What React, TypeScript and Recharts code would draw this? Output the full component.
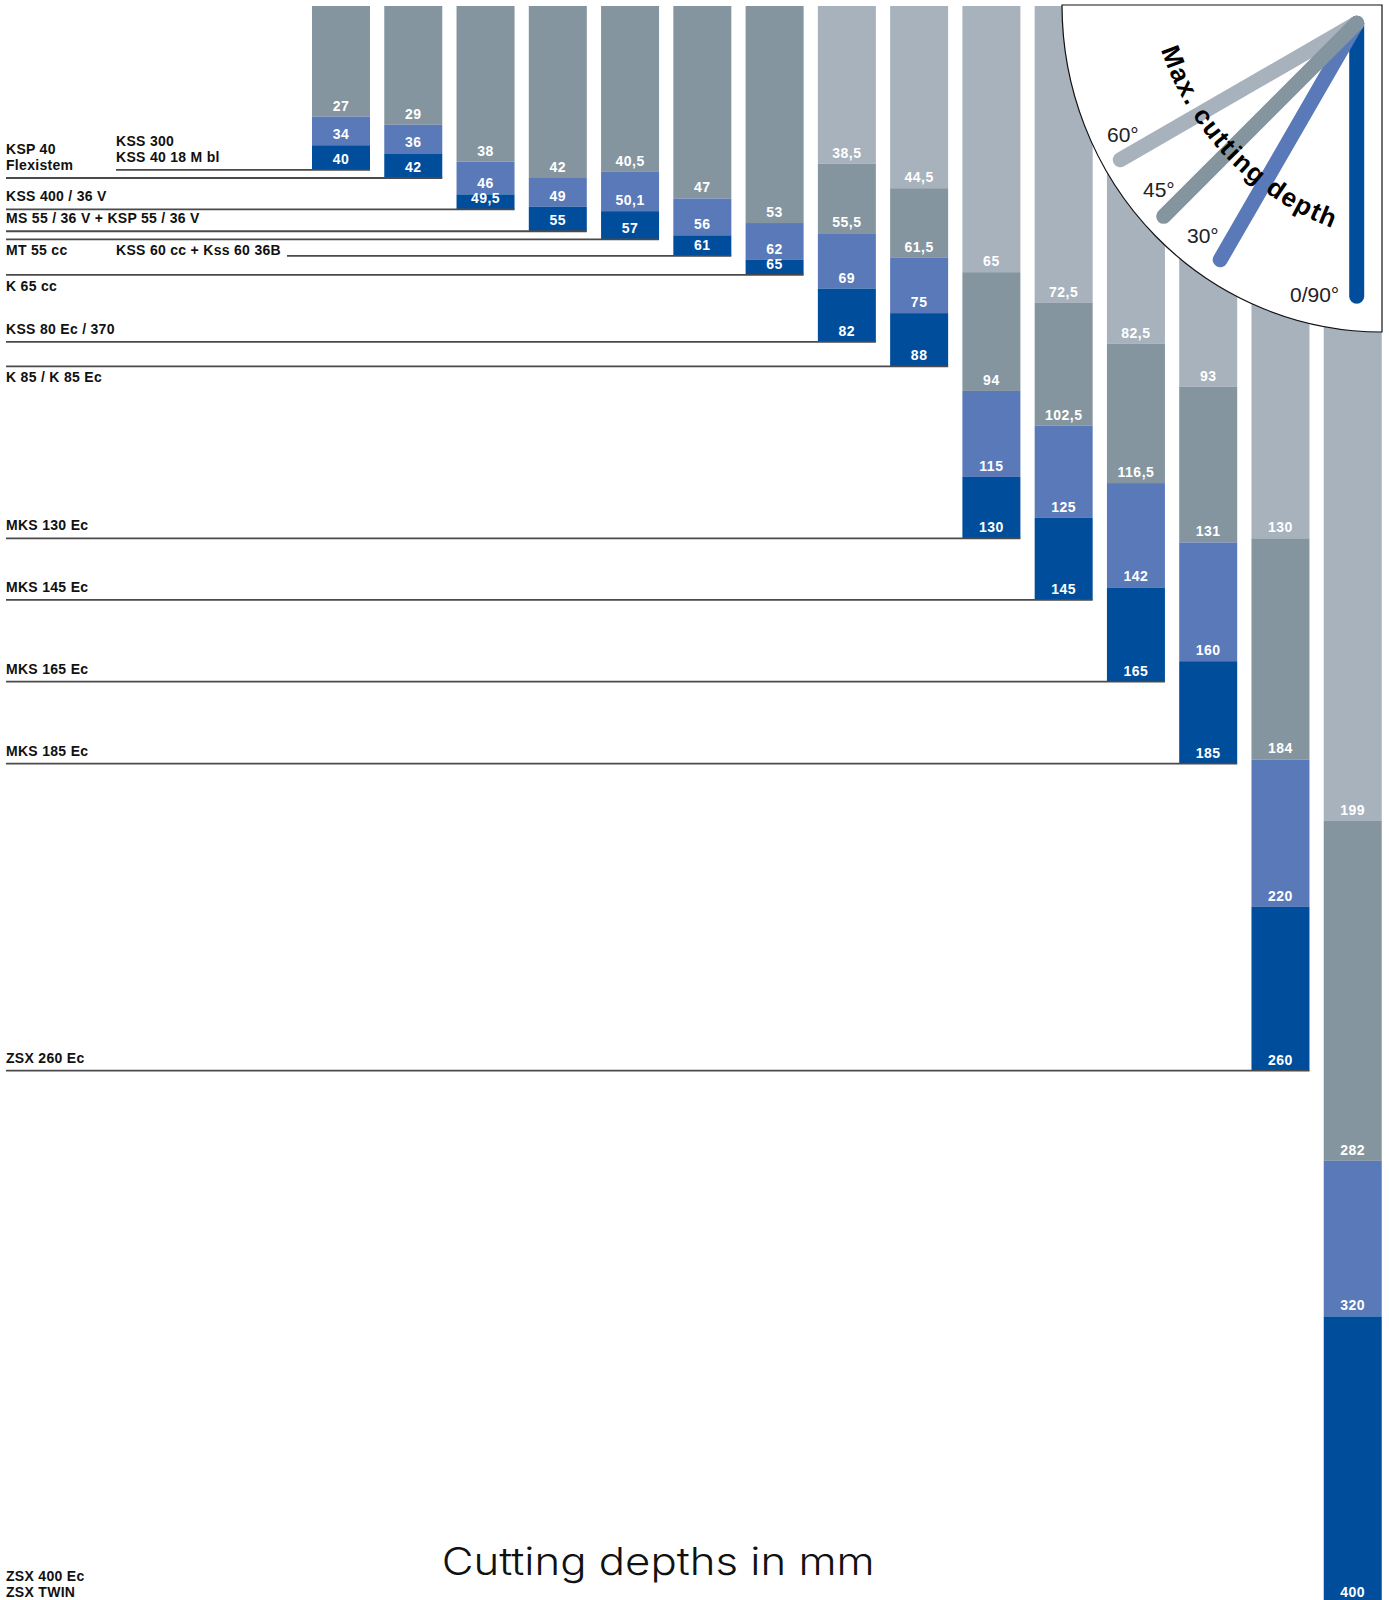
import React from 'react';
import { BarChart, Bar, XAxis, YAxis } from 'recharts';

// ---------- data ----------
const MODELS: string[] = [
  'KSS 300\nKSS 40 18 M bl',
  'KSP 40\nFlexistem',
  'KSS 400 / 36 V',
  'MS 55 / 36 V + KSP 55 / 36 V',
  'MT 55 cc',
  'KSS 60 cc + Kss 60 36B',
  'K 65 cc',
  'KSS 80 Ec / 370',
  'K 85 / K 85 Ec',
  'MKS 130 Ec',
  'MKS 145 Ec',
  'MKS 165 Ec',
  'MKS 185 Ec',
  'ZSX 260 Ec',
  'ZSX 400 Ec\nZSX TWIN',
];
const DEPTH_60: (number | null)[] = [null, null, null, null, null, null, null, 38.5, 44.5, 65, 72.5, 82.5, 93, 130, 199];
const DEPTH_45: number[] = [27, 29, 38, 42, 40.5, 47, 53, 55.5, 61.5, 94, 102.5, 116.5, 131, 184, 282];
const DEPTH_30: number[] = [34, 36, 46, 49, 50.1, 56, 62, 69, 75, 115, 125, 142, 160, 220, 320];
const DEPTH_0: number[] = [40, 42, 49.5, 55, 57, 61, 65, 82, 88, 130, 145, 165, 185, 260, 400];

const KEY_LABELS = ['60°', '45°', '30°', '0/90°'];
const KEY_ANGLES = [60, 45, 30, 0];
const TITLE = 'Cutting depths in mm';
const KEY_TITLE_WORDS = ['Max.', 'cutting', 'depth'];

// ---------- styling / layout ----------
const COLORS = { c60: '#a7b2bd', c45: '#84959f', c30: '#5a79b9', c0: '#004e9b' };
const KEY_COLORS = [COLORS.c60, COLORS.c45, COLORS.c30, COLORS.c0];
const W = 1389;
const VIEW_H = 1600;
const TOP = 6;
const PX_PER_MM = 4.095;
const Y_MAX = 400;
const CHART_H = TOP + Y_MAX * PX_PER_MM;
const FONT = "'Liberation Sans', Arial, Helvetica, sans-serif";

type Lay = { x: number; mode: 'above' | 'below' | 'inline'; lineFrom?: number };
const LABEL_LAYOUT: Lay[] = [
  { x: 116, mode: 'above' },
  { x: 6, mode: 'above' },
  { x: 6, mode: 'above' },
  { x: 6, mode: 'above' },
  { x: 6, mode: 'below' },
  { x: 116, mode: 'inline', lineFrom: 287 },
  { x: 6, mode: 'below' },
  { x: 6, mode: 'above' },
  { x: 6, mode: 'below' },
  { x: 6, mode: 'above' },
  { x: 6, mode: 'above' },
  { x: 6, mode: 'above' },
  { x: 6, mode: 'above' },
  { x: 6, mode: 'above' },
  { x: 6, mode: 'above' },
];

const fmt = (v: number | null) => (v == null ? '' : String(v).replace('.', ','));

const tableData = MODELS.map((model, i) => {
  const v60 = DEPTH_60[i] ?? 0;
  return {
    model,
    idx: i,
    s60: v60,
    s45: DEPTH_45[i] - v60,
    s30: DEPTH_30[i] - DEPTH_45[i],
    s0: DEPTH_0[i] - DEPTH_30[i],
    l60: fmt(DEPTH_60[i]),
    l45: fmt(DEPTH_45[i]),
    l30: fmt(DEPTH_30[i]),
    l0: fmt(DEPTH_0[i]),
  };
});

const makeShape = (labelKey: string, withLeader: boolean) => (props: any) => {
  const { x, y, width, height, fill, payload } = props;
  if (x == null || y == null || !isFinite(y) || !isFinite(height)) return <g />;
  const top = Math.min(y, y + height);
  const bottom = Math.max(y, y + height);
  const h = bottom - top;
  const text = payload ? payload[labelKey] : '';
  const labelY = Math.min(bottom - 6, VIEW_H - 3);
  let leader: React.ReactNode = null;
  if (withLeader && payload) {
    const lay = LABEL_LAYOUT[payload.idx];
    const lines: string[] = String(payload.model).split('\n');
    let baselines: number[];
    if (lay.mode === 'above') {
      const last = Math.min(bottom - 8, VIEW_H - 3);
      baselines = lines.map((_, k) => last - (lines.length - 1 - k) * 16);
    } else if (lay.mode === 'below') {
      baselines = lines.map((_, k) => bottom + 16 + k * 16);
    } else {
      baselines = lines.map((_, k) => bottom - 1 + k * 16);
    }
    leader = (
      <g>
        <line x1={lay.lineFrom ?? lay.x} x2={x + width} y1={bottom} y2={bottom} stroke="#4a4a4a" strokeWidth={1.8} />
        <text fontFamily={FONT} fontSize={14} fontWeight={700} fill="#111" letterSpacing={0.3}>
          {lines.map((t, k) => (
            <tspan key={k} x={lay.x} y={baselines[k]}>{t}</tspan>
          ))}
        </text>
      </g>
    );
  }
  return (
    <g>
      {h > 0 && <rect x={x} y={top} width={width} height={h} fill={fill} />}
      {h > 0 && text !== '' && (
        <text x={x + width / 2} y={labelY} textAnchor="middle" fill="#fff" fontFamily={FONT} fontSize={14} fontWeight={700} letterSpacing={0.5}>
          {text}
        </text>
      )}
      {leader}
    </g>
  );
};

const CX = 1356.7;
const CY = 23.3;
const KEY_LEN = 273;
const KEY_TEXT_POS = [
  [1107, 142],
  [1143, 197],
  [1187, 243],
  [1290, 302],
];
const KEY_DRAW_ORDER = [3, 2, 0, 1];
const KEY_WORD_OFFSETS = [0, 72.5, 178.4];

const Key = () => {
  const rad = Math.PI / 180;
  const arcC = [1435, -42];
  const R = 289;
  const a0 = 161.5 * rad;
  const a1 = 107 * rad;
  const p0 = [arcC[0] + R * Math.cos(a0), arcC[1] + R * Math.sin(a0)];
  const p1 = [arcC[0] + R * Math.cos(a1), arcC[1] + R * Math.sin(a1)];
  return (
    <svg width={W} height={VIEW_H} style={{ position: 'absolute', left: 0, top: 0, pointerEvents: 'none' }}>
      <path d="M 1062 5 A 320 327 0 0 0 1382 332 L 1382 5 Z" fill="#fff" stroke="#111" strokeWidth={1.2} />
      {KEY_DRAW_ORDER.map((i) => {
        const a = KEY_ANGLES[i] * rad;
        return (
          <line
            key={i}
            x1={CX}
            y1={CY}
            x2={CX - KEY_LEN * Math.sin(a)}
            y2={CY + KEY_LEN * Math.cos(a)}
            stroke={KEY_COLORS[i]}
            strokeWidth={15}
            strokeLinecap="round"
          />
        );
      })}
      {KEY_LABELS.map((t, i) => (
        <text key={t} x={KEY_TEXT_POS[i][0]} y={KEY_TEXT_POS[i][1]} fontFamily={FONT} fontSize={21} fill="#222">
          {t}
        </text>
      ))}
      <defs>
        <path id="keyArc" d={`M ${p0[0]} ${p0[1]} A ${R} ${R} 0 0 0 ${p1[0]} ${p1[1]}`} />
      </defs>
      {KEY_TITLE_WORDS.map((wd, i) => (
        <text key={wd} fontFamily={FONT} fontSize={26} fontWeight={700} fill="#000" letterSpacing={1.5}>
          <textPath href="#keyArc" startOffset={KEY_WORD_OFFSETS[i]}>{wd}</textPath>
        </text>
      ))}
      <text
        x={441.7}
        y={1575}
        fontFamily="Inter, Roboto, 'Open Sans', sans-serif"
        fontWeight={300}
        fontSize={38}
        fill="#111"
        textLength={433}
        lengthAdjust="spacingAndGlyphs"
      >
        {TITLE}
      </text>
    </svg>
  );
};

export default function App() {
  return (
    <div style={{ position: 'absolute', left: 0, top: 0, width: W, height: VIEW_H, overflow: 'hidden', background: '#fff' }}>
      <BarChart
        width={W}
        height={CHART_H}
        data={tableData}
        margin={{ top: TOP, right: 0, bottom: 0, left: 305 }}
        barSize={58}
      >
        <XAxis dataKey="model" type="category" hide />
        <YAxis type="number" domain={[0, Y_MAX]} reversed hide allowDataOverflow />
        <Bar dataKey="s60" stackId="a" fill={COLORS.c60} isAnimationActive={false} shape={makeShape('l60', false)} />
        <Bar dataKey="s45" stackId="a" fill={COLORS.c45} isAnimationActive={false} shape={makeShape('l45', false)} />
        <Bar dataKey="s30" stackId="a" fill={COLORS.c30} isAnimationActive={false} shape={makeShape('l30', false)} />
        <Bar dataKey="s0" stackId="a" fill={COLORS.c0} isAnimationActive={false} minPointSize={15} shape={makeShape('l0', true)} />
      </BarChart>
      <Key />
    </div>
  );
}
